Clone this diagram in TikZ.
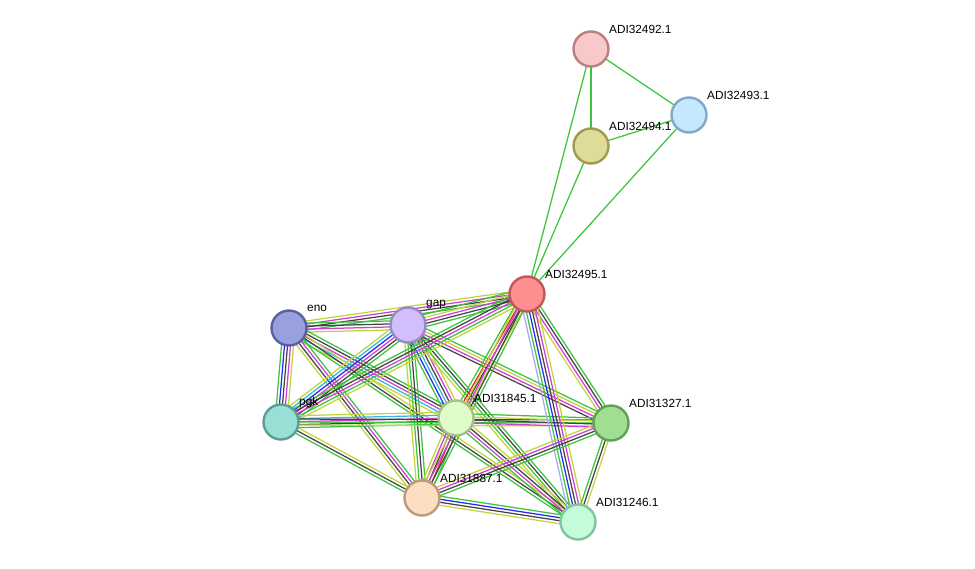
\documentclass[tikz,border=0pt]{standalone}
\usepackage{fontspec}
\setmainfont{Liberation Sans}
\usetikzlibrary{calc,backgrounds}

\definecolor{sgreen}{HTML}{3CC43C}
\definecolor{sred}{HTML}{E8261E}
\definecolor{sblue}{HTML}{2828F0}
\definecolor{sblack}{HTML}{444444}
\definecolor{smag}{HTML}{D23CD8}
\definecolor{scyan}{HTML}{30B8E4}
\definecolor{syel}{HTML}{C2D43C}
\definecolor{slav}{HTML}{A8A8F4}

\tikzset{
  prot/.style={circle, minimum size=35pt, inner sep=0pt, line width=2.4pt},
  lbl/.style={anchor=west, inner sep=0pt, font=\fontsize{11.8}{14}\selectfont},
  wire/.style={line width=1.25pt}
}

% parallel coloured lines between two proteins
\newcommand\bundle[3]{%
  \foreach \c [count=\i] in {#3} {\xdef\nbund{\i}}%
  \foreach \c [count=\i] in {#3} {%
    \pgfmathsetmacro\off{(\i-(\nbund+1)/2)*3.0}%
    \draw[\c, wire] ($(#1)!\off pt!90:(#2)$) -- ($(#2)!\off pt!-90:(#1)$);
  }}

\begin{document}
\begin{tikzpicture}[x=1pt, y=-1pt]
  \useasboundingbox (0,0) rectangle (975,568);

  % proteins
  \foreach \nm/\x/\y/\fc/\dc/\txt in {
      a492/591/49/F9C8C8/B98080/ADI32492.1,
      a493/689/115/C4E8FC/80A8C8/ADI32493.1,
      a494/591/146/DEDC98/9E9A50/ADI32494.1,
      a495/527/294/FF8E8E/C05858/ADI32495.1,
      eno/289/328/98A0DD/5860A0/eno,
      gap/408/325/D2BEFA/9A88C8/gap,
      pgk/281/422/9ADFD5/5A9E96/pgk,
      a845/456/418/E0FCC8/A4C088/ADI31845.1,
      a327/611/423/A0DE94/62A056/ADI31327.1,
      a887/422/498/FCDEC0/BC9A7C/ADI31887.1,
      a246/578/522/C2FCD8/80C4A0/ADI31246.1} {
    \definecolor{fc}{HTML}{\fc}
    \definecolor{dc}{HTML}{\dc}
    \node[prot, fill=fc, draw=dc] (\nm) at (\x,\y) {};
    \node[lbl] (l\nm) at (\x+18,\y-20) {\txt};
  }

  \begin{pgfonlayer}{background}
    % upper group
    \bundle{a492}{a493}{sgreen}
    \bundle{a492}{a494}{sgreen}
    \bundle{a492}{a495}{sgreen}
    \bundle{a493}{a494}{sgreen}
    \bundle{a493}{a495}{sgreen}
    \bundle{a494}{a495}{sgreen}
    % lower group
    \bundle{eno}{a495}{sgreen,sblack,smag,syel}
    \bundle{eno}{gap}{syel,smag,sblack,sgreen}
    \bundle{eno}{pgk}{sgreen,sblue,sblack,smag,syel}
    \bundle{eno}{a845}{syel,scyan,smag,sblack,sgreen}
    \bundle{eno}{a246}{sgreen,sblack,syel}
    \bundle{eno}{a887}{syel,sblack,smag,sgreen}
    \bundle{gap}{a495}{sgreen,sblack,smag,syel,sgreen}
    \bundle{gap}{pgk}{syel,scyan,sblue,smag,sblack,sgreen}
    \bundle{gap}{a845}{sgreen,sblue,scyan,sblack,smag,syel}
    \bundle{gap}{a887}{syel,sgreen,sblack,sgreen}
    \bundle{gap}{a246}{syel,sgreen,sblack,sgreen}
    \bundle{gap}{a327}{sblack,smag,syel,sgreen}
    \bundle{pgk}{a495}{syel,sgreen,smag,sblack,sgreen}
    \bundle{pgk}{a845}{sgreen,sblack,smag,scyan,syel}
    \bundle{pgk}{a327}{syel,sgreen,sblack}
    \bundle{pgk}{a887}{sgreen,sblack,syel}
    \bundle{a845}{a495}{syel,sblack,sred,sgreen}
    \bundle{a845}{a327}{smag,sblack,syel,sgreen}
    \bundle{a845}{a887}{syel,smag,sblack,sred,sgreen}
    \bundle{a845}{a246}{sgreen,smag,sblack,syel}
    \bundle{a887}{a495}{sgreen,sblack,smag,syel}
    \bundle{a495}{a327}{syel,smag,sblack,sgreen}
    \bundle{a495}{a246}{slav,sgreen,sblue,sblack,smag,syel}
    \bundle{a327}{a887}{syel,smag,sblack,sgreen}
    \bundle{a327}{a246}{sgreen,sblack,syel}
    \bundle{a887}{a246}{syel,sblack,sblue,sgreen}
  \end{pgfonlayer}
\end{tikzpicture}
\end{document}
